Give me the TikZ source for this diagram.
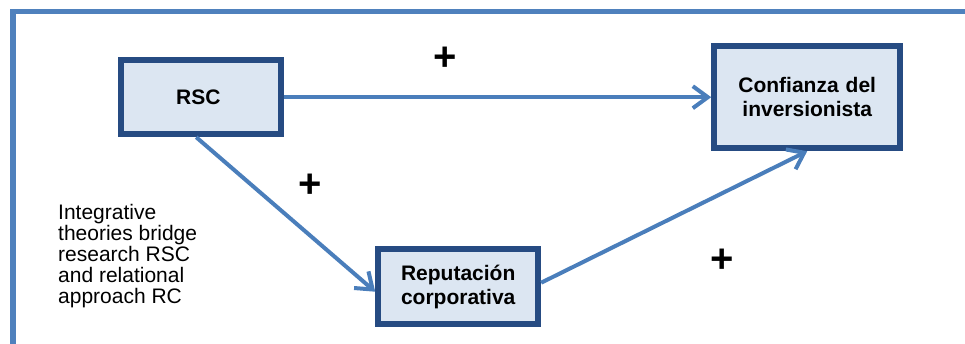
\documentclass[tikz,border=0pt]{standalone}
\usepackage{fontspec}
\setmainfont{Liberation Sans}
\usetikzlibrary{matrix}
\usetikzlibrary{arrows.meta}
\definecolor{boxline}{HTML}{264B82}
\definecolor{boxfill}{HTML}{DCE6F2}
\definecolor{linkblue}{HTML}{4A7EBB}
\definecolor{frameblue}{HTML}{4F81BD}

\begin{document}
\begin{tikzpicture}[x=1pt,y=-1pt,->,>={Straight Barb[length=15pt,width=22pt]},
		link/.style={draw=linkblue,line width=4pt},
		plus/.style={font=\fontsize{40}{40}\selectfont\bfseries,inner sep=0pt}]
		\useasboundingbox (0,0) rectangle (965,343);
		\clip (0,0) rectangle (965,343);
		\draw[-,frameblue,line width=5.5pt] (13,360) -- (13,11.5) -- (990,11.5);
		\matrix (m) [matrix of nodes,nodes={draw=boxline,fill=boxfill,line width=6pt,anchor=center,inner sep=0pt,align=center,font=\fontsize{21}{24}\selectfont\bfseries},row sep=95pt,column sep=91pt,ampersand replacement=\&,inner sep=0pt,anchor=north west] at (118,43)
		{
			|[minimum width=160pt,minimum height=74pt](rsc)| RSC \& \&[79pt] |[minimum width=186pt,minimum height=102pt,text width=170pt](conf)| Confianza del inversionista \\
			\& |[minimum width=160pt,minimum height=75pt,text width=150pt](rep)| Reputación corporativa \& \\
		};
		\node[anchor=north west,align=left,inner sep=0pt,font=\fontsize{21}{21}\selectfont] (note) at (58,204) {Integrative\\theories bridge\\research RSC\\and relational\\approach RC};
		\node[plus] (p1) at (445.5,59) {+};
		\node[plus] (p2) at (310.5,186) {+};
		\node[plus] (p3) at (722.5,261) {+};
		\draw[link] (rsc) -- (conf);
		\draw[link] ([xshift=-5pt]rsc.south) -- ([yshift=-5pt]rep.west);
		\draw[link] ([yshift=4pt]rep.east) -- (conf.south);
		\end{tikzpicture}
\end{document}
